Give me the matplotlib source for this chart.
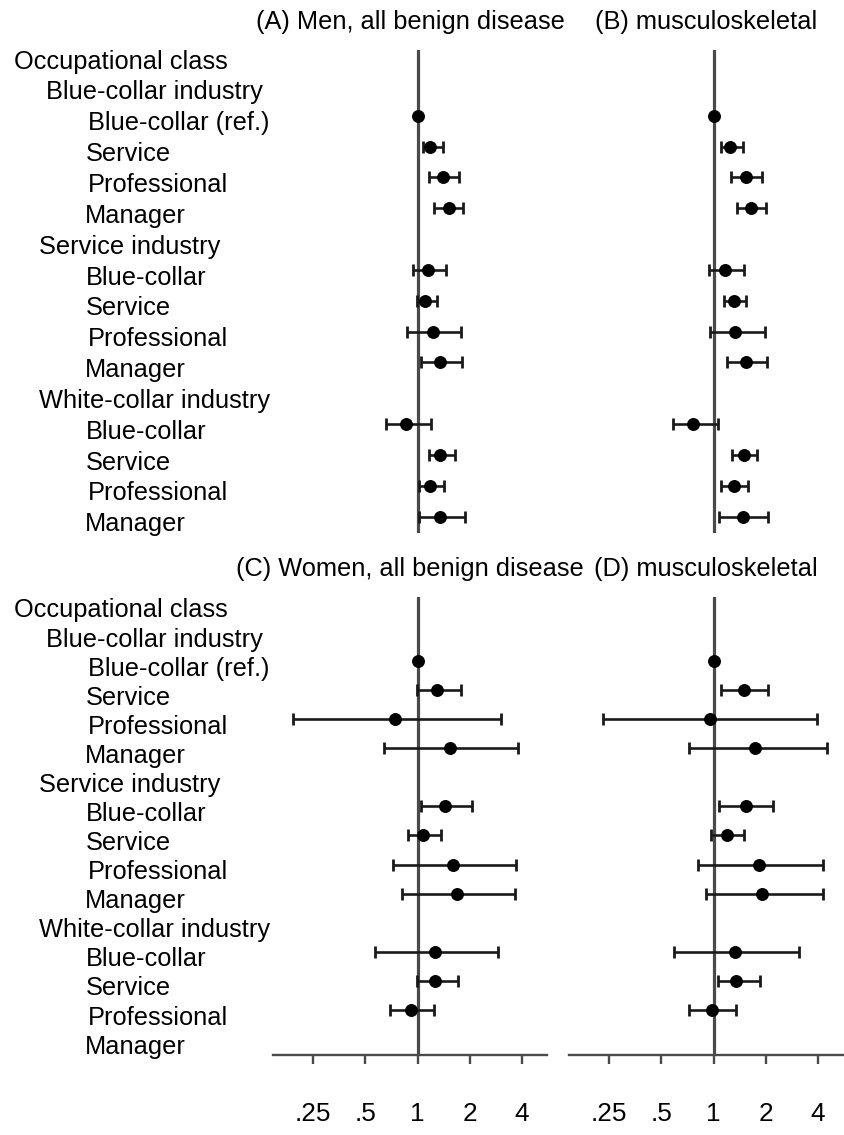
import numpy as np
import matplotlib
matplotlib.use("Agg")
import matplotlib.pyplot as plt


# -----------------------------
# 1. DATA (odds ratios and 95% CI)
# -----------------------------
row_labels = [
    "Occupational class",
    "Blue-collar industry",
    "Blue-collar (ref.)", "Service", "Professional", "Manager",
    "Service industry",
    "Blue-collar", "Service", "Professional", "Manager",
    "White-collar industry",
    "Blue-collar", "Service", "Professional", "Manager",
]

# line index of each estimate (12 per panel)
est_rows = [2, 3, 4, 5, 7, 8, 9, 10, 12, 13, 14, 15]

titles = [
    "(A) Men, all benign disease",
    "(B) musculoskeletal",
    "(C) Women, all benign disease",
    "(D) musculoskeletal",
]

nan = np.nan

men_all_or = [1.00, 1.18, 1.41, 1.51, 1.15, 1.10, 1.23, 1.35, 0.86, 1.35, 1.18, 1.35]
men_all_lo = [1.00, 1.07, 1.17, 1.25, 0.94, 0.99, 0.87, 1.04, 0.66, 1.17, 1.02, 1.02]
men_all_hi = [1.00, 1.40, 1.74, 1.82, 1.46, 1.30, 1.78, 1.81, 1.20, 1.65, 1.42, 1.89]

men_msk_or = [1.00, 1.24, 1.53, 1.64, 1.16, 1.31, 1.33, 1.53, 0.76, 1.49, 1.31, 1.47]
men_msk_lo = [1.00, 1.11, 1.26, 1.37, 0.94, 1.15, 0.95, 1.19, 0.58, 1.27, 1.11, 1.07]
men_msk_hi = [1.00, 1.47, 1.91, 2.00, 1.49, 1.53, 1.97, 2.04, 1.06, 1.78, 1.58, 2.06]

women_all_or = [1.00, 1.29, 0.74, 1.53, 1.44, 1.08, 1.60, 1.69, 1.26, 1.26, 0.92, nan]
women_all_lo = [1.00, 0.99, 0.19, 0.64, 1.05, 0.88, 0.72, 0.81, 0.57, 0.99, 0.69, nan]
women_all_hi = [1.00, 1.79, 3.03, 3.79, 2.07, 1.37, 3.68, 3.66, 2.91, 1.71, 1.25, nan]

women_msk_or = [1.00, 1.49, 0.95, 1.74, 1.53, 1.19, 1.82, 1.90, 1.33, 1.35, 0.98, nan]
women_msk_lo = [1.00, 1.11, 0.23, 0.72, 1.07, 0.97, 0.81, 0.91, 0.59, 1.06, 0.72, nan]
women_msk_hi = [1.00, 2.06, 3.96, 4.49, 2.21, 1.50, 4.29, 4.29, 3.12, 1.86, 1.34, nan]

x_ticks = [0.25, 0.5, 1, 2, 4]
x_tick_labels = [".25", ".5", "1", "2", "4"]


# -----------------------------
# 2. LAYOUT (pixels of an 845x1135 figure)
# -----------------------------
W, H = 845, 1135
FONT = ["Liberation Sans", "Arial", "DejaVu Sans"]
FS = 18.3
# left edge of each row label, in pixels
label_x_px = [14, 46, 88, 86, 88, 85, 39, 86, 86, 88, 85, 39, 86, 86, 88, 85]
label_shift_pt = -5.5


def px_box(left, top, right, bottom):
    return [left / W, 1 - bottom / H, (right - left) / W, (bottom - top) / H]


def draw_panel(ax, odds, lo, hi, title, bottom_axis, ylim):
    odds = np.array(odds, dtype=float)
    lo = np.array(lo, dtype=float)
    hi = np.array(hi, dtype=float)
    y = np.array(est_rows, dtype=float)

    ax.axvline(1, color="#4a4a4a", lw=2.3, zorder=1)

    has_ci = np.isfinite(odds) & (hi > lo)
    ax.errorbar(odds[has_ci], y[has_ci],
                xerr=[odds[has_ci] - lo[has_ci], hi[has_ci] - odds[has_ci]],
                fmt="none", ecolor="#1a1a1a", elinewidth=1.9,
                capsize=4.5, capthick=2.0, zorder=2)
    ok = np.isfinite(odds)
    ax.plot(odds[ok], y[ok], "o", color="black", ms=8.3, zorder=3)

    ax.set_xscale("log", base=2)
    ax.set_xlim(2 ** -2.77, 2 ** 2.48)
    ax.set_ylim(*ylim)

    for side in ["top", "right", "left"]:
        ax.spines[side].set_visible(False)
    ax.set_yticks([])

    if bottom_axis:
        ax.spines["bottom"].set_color("#4a4a4a")
        ax.spines["bottom"].set_linewidth(1.7)
        ax.set_xticks(x_ticks)
        ax.set_xticklabels(x_tick_labels, fontsize=18.8, family=FONT)
        ax.minorticks_off()
        ax.tick_params(axis="x", length=6.5, width=1.7, color="#4a4a4a",
                       pad=27)
    else:
        ax.spines["bottom"].set_visible(False)
        ax.set_xticks([])
        ax.minorticks_off()

    ax.annotate(title, xy=(0.5, 1), xycoords="axes fraction",
                xytext=(0, 20), textcoords="offset points",
                ha="center", va="center", fontsize=FS, family=FONT,
                annotation_clip=False)


def draw_labels(ax):
    for i, (text, xpx) in enumerate(zip(row_labels, label_x_px)):
        ax.annotate(text, xy=(xpx / W, i),
                    xycoords=("figure fraction", "data"),
                    xytext=(0, label_shift_pt), textcoords="offset points",
                    ha="left", va="center", fontsize=FS, family=FONT,
                    annotation_clip=False)


# -----------------------------
# 3. FIGURE
# -----------------------------
def main():
    fig = plt.figure(figsize=(W / 100, H / 100), dpi=100)

    top_ylim = (15.53, -0.13)
    bot_ylim = (15.55, -0.2)

    ax_a = fig.add_axes(px_box(273, 50, 547, 533))
    ax_b = fig.add_axes(px_box(569, 50, 843, 533))
    ax_c = fig.add_axes(px_box(273, 597, 547, 1055))
    ax_d = fig.add_axes(px_box(569, 597, 843, 1055))

    draw_panel(ax_a, men_all_or, men_all_lo, men_all_hi, titles[0], False, top_ylim)
    draw_panel(ax_b, men_msk_or, men_msk_lo, men_msk_hi, titles[1], False, top_ylim)
    draw_panel(ax_c, women_all_or, women_all_lo, women_all_hi, titles[2], True, bot_ylim)
    draw_panel(ax_d, women_msk_or, women_msk_lo, women_msk_hi, titles[3], True, bot_ylim)

    draw_labels(ax_a)
    draw_labels(ax_c)

    fig.savefig("out.png", dpi=100, facecolor="white")
    plt.close(fig)


if __name__ == "__main__":
    main()
